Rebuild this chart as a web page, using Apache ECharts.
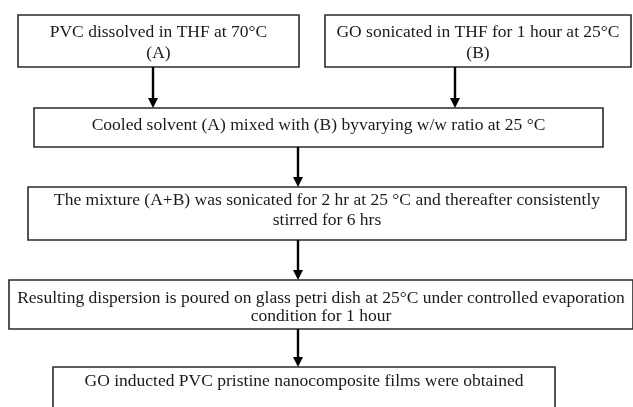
<!DOCTYPE html>
<html>
<head>
<meta charset="utf-8">
<script src="https://cdn.jsdelivr.net/npm/echarts@6/dist/echarts.min.js"></script>
<style>
  html, body { margin: 0; padding: 0; background: #fff; }
  #chart { width: 633px; height: 407px; }
</style>
</head>
<body>
<div id="chart"></div>
<script>
// step texts (one entry per box, lines split by \n)
const stepTexts = [
  'PVC dissolved in THF at 70°C\n(A)',
  'GO sonicated in THF for 1 hour at 25°C\n(B)',
  'Cooled solvent (A) mixed with (B) byvarying w/w ratio at 25 °C',
  'The mixture (A+B) was sonicated for 2 hr at 25 °C and thereafter consistently\nstirred for 6 hrs',
  'Resulting dispersion is poured on glass petri dish at 25°C under controlled evaporation\ncondition for 1 hour',
  'GO inducted PVC pristine nanocomposite films were obtained'
]
// flow links: [from, to]
const links = [[0, 2], [1, 2], [2, 3], [3, 4], [4, 5]]

// layout (pixel boxes: x, y, w, h), text offset from box top, line height
const boxes = [
  { x: 18, y: 15, w: 281, h: 52, ty: 7, lh: 21 },
  { x: 325, y: 15, w: 306, h: 52, ty: 7, lh: 21 },
  { x: 34, y: 108, w: 569, h: 39, ty: 7, lh: 20 },
  { x: 28, y: 187, w: 598, h: 53, ty: 3, lh: 20 },
  { x: 9, y: 280, w: 624, h: 49, ty: 9, lh: 18 },
  { x: 53, y: 367, w: 502, h: 60, ty: 4, lh: 20 }
]
// arrow x positions for each link
const arrowX = [153, 455, 298, 298, 298]

const font = '"Liberation Serif", "Times New Roman", serif'
const stroke = '#2a2a2a'

const elements = []
boxes.forEach((b, i) => {
  elements.push({
    type: 'rect',
    shape: { x: b.x, y: b.y, width: b.w, height: b.h },
    style: { fill: '#fff', stroke: stroke, lineWidth: 1.6 }
  })
  elements.push({
    type: 'text',
    x: b.x + b.w / 2,
    y: b.y + b.ty,
    style: {
      text: stepTexts[i],
      font: '17.5px ' + font,
      fill: '#1a1a1a',
      align: 'center',
      verticalAlign: 'top',
      lineHeight: b.lh
    }
  })
})

links.forEach(([from, to], i) => {
  const x = arrowX[i]
  const y1 = boxes[from].y + boxes[from].h
  const y2 = boxes[to].y
  elements.push({
    type: 'line',
    shape: { x1: x, y1: y1, x2: x, y2: y2 - 8 },
    style: { stroke: '#000', lineWidth: 2.4 }
  })
  elements.push({
    type: 'polygon',
    shape: { points: [[x - 5, y2 - 10], [x + 5, y2 - 10], [x, y2]] },
    style: { fill: '#000' }
  })
})

const chart = echarts.init(document.getElementById('chart'))
chart.setOption({
  backgroundColor: '#fff',
  animation: false,
  graphic: { elements: elements }
})
</script>
</body>
</html>
